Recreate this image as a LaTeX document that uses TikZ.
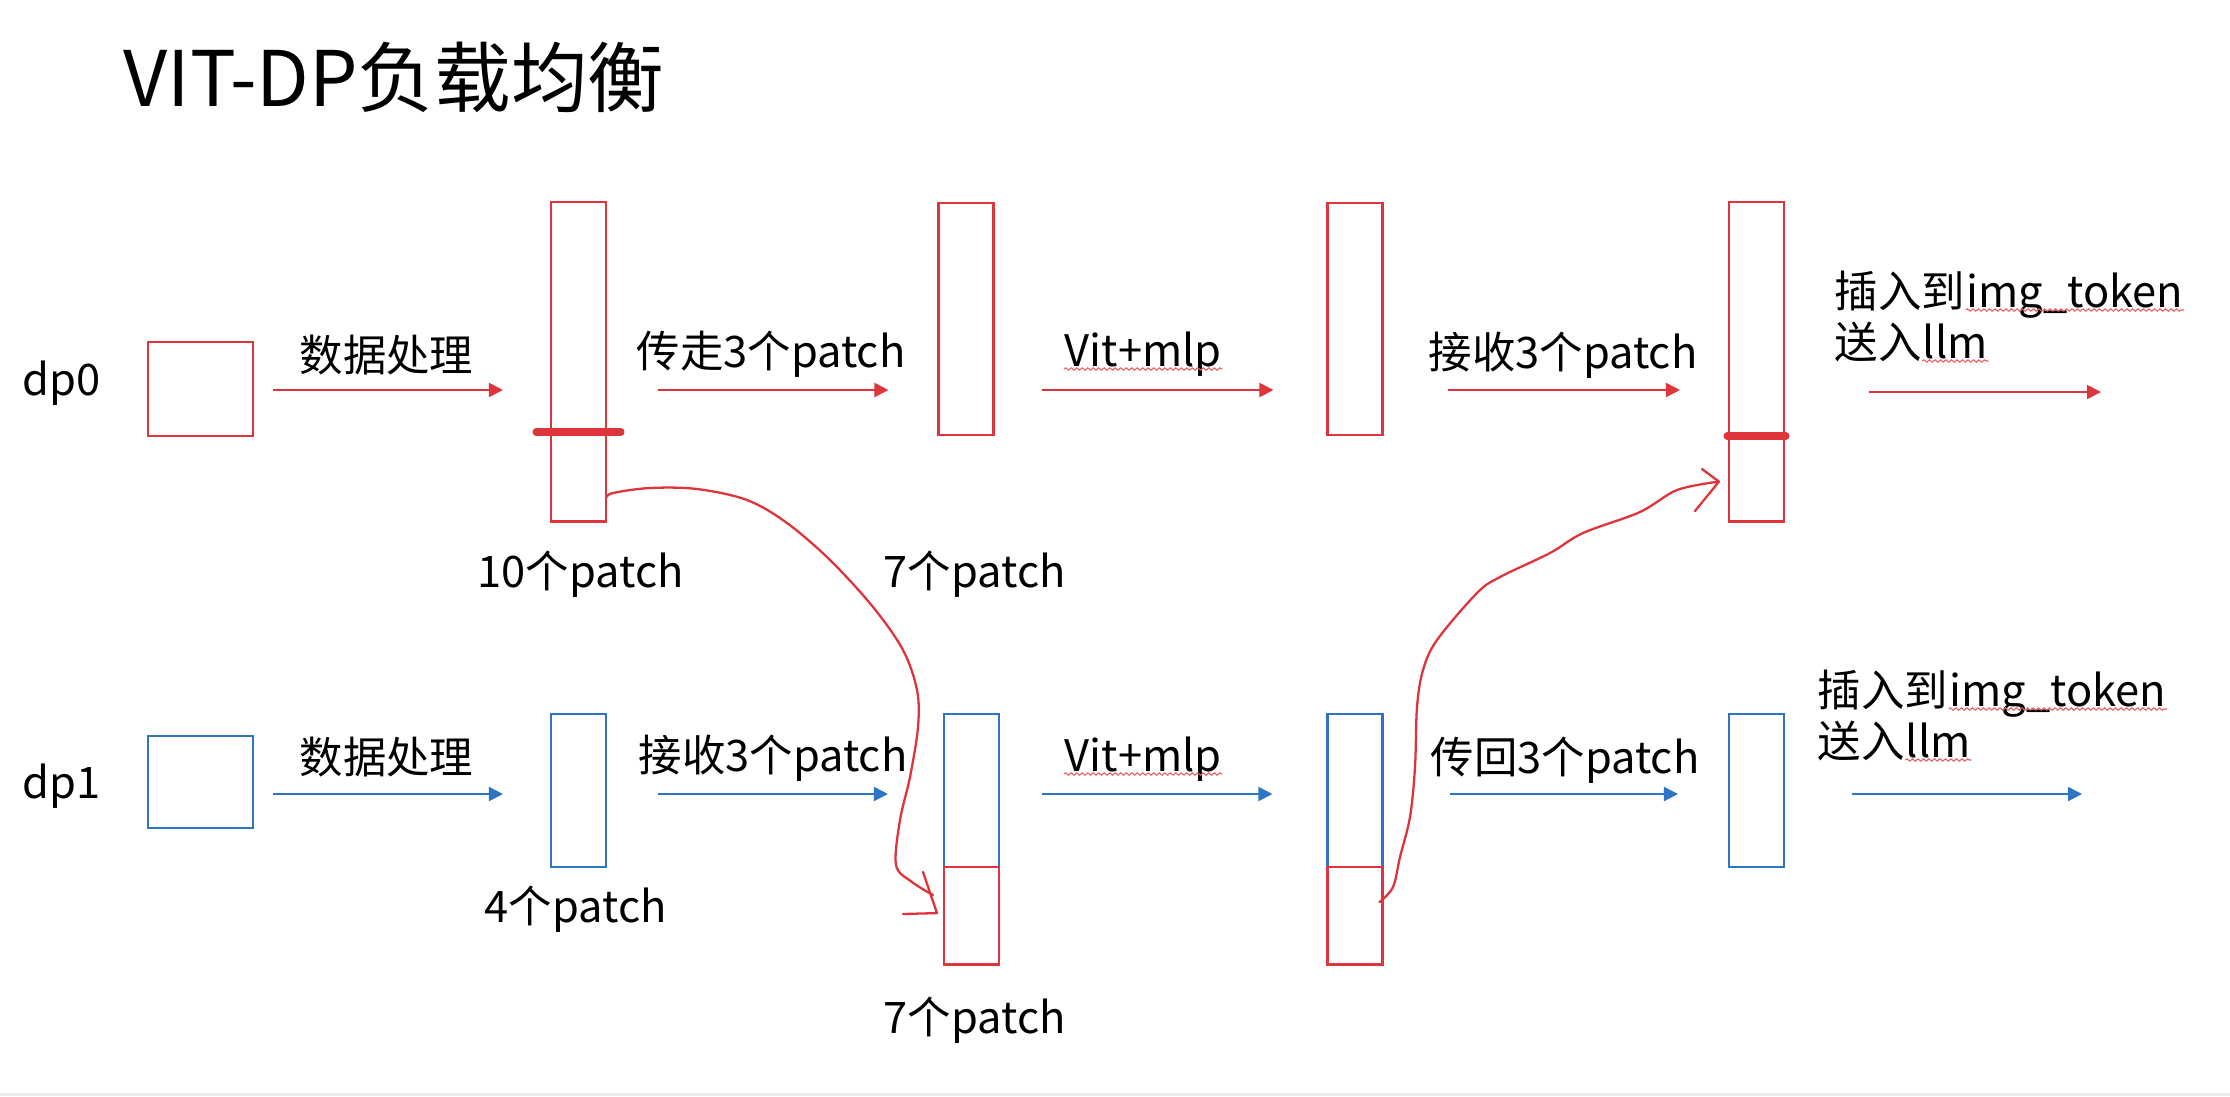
\documentclass[tikz,border=0pt]{standalone}
\usepackage{fontspec}
\setmainfont{Noto Sans CJK SC}
\usetikzlibrary{arrows.meta,positioning,decorations.pathmorphing}
\definecolor{dpred}{RGB}{222,52,60}
\definecolor{dpblue}{RGB}{46,117,196}
\tikzset{>={Triangle[length=1.4mm,width=1.4mm]},
  rbox/.style={draw=dpred,line width=0.8pt,inner sep=0,outer sep=0},
  bbox/.style={draw=dpblue,line width=0.8pt,inner sep=0,outer sep=0},
  rarr/.style={->,dpred,line width=0.55pt},
  barr/.style={->,dpblue,line width=0.55pt},
  lbl/.style={anchor=base west,inner sep=0,font=\fontsize{12.35}{14.5}\selectfont},
  hand/.style={dpred,line width=0.65pt,line cap=round,line join=round},
  cut/.style={dpred,line width=2pt,line cap=round},
  squig/.style={draw=dpred!80,line width=0.3pt,decorate,
    decoration={snake,amplitude=0.12mm,segment length=0.55mm}}
}

\begin{document}
\begin{tikzpicture}[x=0.01cm,y=-0.01cm]
    \fill[white] (0,0) rectangle (2230,1096);
    \useasboundingbox (0,0) rectangle (2230,1096);
    \fill[gray!15] (0,1093) rectangle (2230,1096);
    \node[lbl,font=\fontsize{21.8}{26}\selectfont] (title) at (123,106) {VIT-DP负载均衡};
    \node[lbl] (dp0) at (22,395) {dp0};
    \node[lbl] (dp1) at (22,798) {dp1};
    \node[rbox,minimum width=10.5mm,minimum height=9.4mm] (in0) at (200.5,389) {};
    \node[bbox,minimum width=10.5mm,minimum height=9.2mm] (in1) at (200.5,782) {};
    \foreach \n/\x/\y/\h in {1/578.5/361.5/31.9mm,2/966/319/23.2mm,3/1355/319/23.2mm,4/1756.5/361.5/31.9mm}
     \node[rbox,minimum width=5.5mm,minimum height=\h] (bar0\n) at (\x,\y) {};
    \foreach \n/\x in {1/578.5,2/971.5,3/1355,4/1756.5}
     \node[bbox,minimum width=5.5mm,minimum height=15.3mm] (bar1\n) at (\x,790.5) {};
    \node[rbox,minimum width=5.5mm,minimum height=9.7mm,below=0pt of bar12] (bar12r) {};
    \node[rbox,minimum width=5.5mm,minimum height=9.7mm,below=0pt of bar13] (bar13r) {};
    \draw[cut] (536,432) -- (621,432);
    \draw[cut] (1727,436) -- (1786,436);
    \coordinate (r0) at (0,390);
    \coordinate (r1) at (0,794);
    \foreach \a/\b/\s/\e in {in0/bar01/2/4.8,bar01/bar02/5.2/5,bar02/bar03/4.8/5.4,bar03/bar04/6.5/4.9}
     \draw[rarr,shorten <=\s mm,shorten >=\e mm] (\a.east |- r0) -- (\b.west |- r0);
    \foreach \a/\b/\s/\e in {in1/bar11/2/4.8,bar11/bar12/5.2/5.6,bar12/bar13/4.3/5.5,bar13/bar14/6.7/5.1}
     \draw[barr,shorten <=\s mm,shorten >=\e mm] (\a.east |- r1) -- (\b.west |- r1);
    \coordinate (e0) at (2101,392);
    \coordinate (e1) at (2082,794);
    \draw[rarr,shorten <=8.5mm] (bar04.east |- e0) -- (e0);
    \draw[barr,shorten <=6.8mm] (bar14.east |- e1) -- (e1);
    \node[lbl] (l01) at (299,371) {数据处理};
    \node[lbl] (l02) at (636,367) {传走3个patch};
    \node[lbl] (l03) at (1064,366) {Vit+mlp};
    \node[lbl] (l04) at (1428,368) {接收3个patch};
    \node[lbl] (l05) at (1834,307) {插入到};
    \node[lbl] (l05t) at (l05.base east) {img\_token};
    \node[lbl] (l06) at (1834,358) {送入};
    \node[lbl] (l06t) at (l06.base east) {llm};
    \node[lbl] (l11) at (299,773) {数据处理};
    \node[lbl] (l12) at (638,771) {接收3个patch};
    \node[lbl] (l13) at (1064,771) {Vit+mlp};
    \node[lbl] (l14) at (1430,773) {传回3个patch};
    \node[lbl] (l15) at (1817,706) {插入到};
    \node[lbl] (l15t) at (l15.base east) {img\_token};
    \node[lbl] (l16) at (1817,757) {送入};
    \node[lbl] (l16t) at (l16.base east) {llm};
    \foreach \w in {l03,l05t,l06t,l13,l15t,l16t}
     \draw[squig] ([yshift=-0.3mm]\w.base west) -- ([yshift=-0.3mm]\w.base east);
    \node[lbl] (n01) at (477,587) {10个patch};
    \node[lbl] (n02) at (883,587) {7个patch};
    \node[lbl] (n11) at (484,922) {4个patch};
    \node[lbl] (n12) at (883,1033) {7个patch};
    \coordinate (k1) at (bar01.east |- 0,498);
    \coordinate (t1) at ([xshift=-0.7mm,yshift=0.25mm]bar12r.west);
    \draw[hand] plot[smooth,tension=0.55] coordinates {(k1) (613,493) (650,488) (697,489) (747,500) (787,523) (830,560) (873,607) (903,650) (917,690) (918,727) (910,777) (900,820) (896,865) (912,882) (933,895)};
    \draw[hand] (923,872) -- (t1) -- (903,914);
    \coordinate (k2) at ([xshift=-0.3mm,yshift=1.35mm]bar13r.east);
    \coordinate (t2) at ([xshift=-1mm,yshift=-12mm]bar04.west);
    \draw[hand] plot[smooth,tension=0.55] coordinates {(k2) (1393,887) (1400,857) (1410,817) (1415,767) (1417,707) (1423,670) (1437,640) (1477,593) (1500,577) (1550,553) (1583,533) (1640,512) (1677,490) (t2)};
    \draw[hand] (1702,469) -- (t2) -- (1695,511);
\end{tikzpicture}
\end{document}
